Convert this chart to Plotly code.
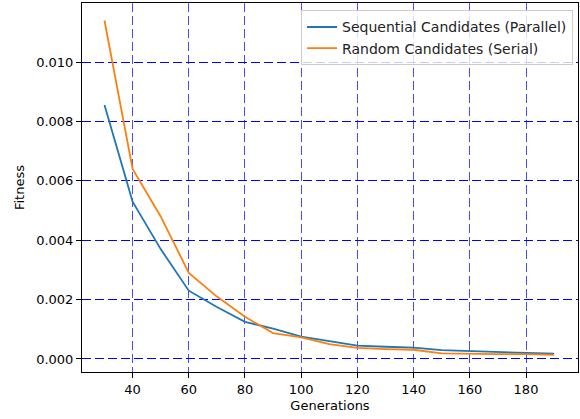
import plotly.graph_objects as go

generations = [30, 40, 50, 60, 70, 80, 90, 100, 110, 120, 130, 140, 150, 160, 170, 180, 190]
sequential_parallel = [0.00855, 0.0053, 0.0037, 0.0023, 0.00175, 0.00125, 0.00102, 0.00075, 0.0006,
                       0.00045, 0.00041, 0.00038, 0.0003, 0.00026, 0.00023, 0.0002, 0.00018]
random_serial = [0.0114, 0.0064, 0.0048, 0.0029, 0.0021, 0.00142, 0.00087, 0.00073, 0.0005,
                 0.00037, 0.00033, 0.00031, 0.00019, 0.00017, 0.00016, 0.00016, 0.00014]
x_ticks = [40, 60, 80, 100, 120, 140, 160, 180]
y_ticks = [0.0, 0.002, 0.004, 0.006, 0.008, 0.010]

fig = go.Figure()
fig.add_trace(go.Scatter(x=generations, y=sequential_parallel, mode="lines",
                         name="Sequential Candidates (Parallel)",
                         line=dict(color="#1f77b4", width=1.8)))
fig.add_trace(go.Scatter(x=generations, y=random_serial, mode="lines",
                         name="Random Candidates (Serial)",
                         line=dict(color="#ff7f0e", width=1.8)))

axis_common = dict(showline=True, linecolor="black", linewidth=1, mirror=True,
                   ticks="outside", ticklen=5, tickcolor="black", tickwidth=1,
                   zeroline=False, showgrid=True, griddash="9px,4px", gridwidth=1,
                   tickfont=dict(family="DejaVu Sans", size=13, color="black"),
                   title_font=dict(family="DejaVu Sans", size=13, color="black"))

fig.update_xaxes(range=[22, 198.5], tickvals=x_ticks, ticktext=[str(v) for v in x_ticks],
                 gridcolor="#4a4aff", title_text="Generations",
                 title_standoff=5, **axis_common)
fig.update_yaxes(range=[-0.00044, 0.01199], tickvals=y_ticks,
                 ticktext=[f"{v:.3f}" for v in y_ticks],
                 gridcolor="#0000ff", title_text="Fitness", title_standoff=8, **axis_common)

fig.update_layout(
    width=580, height=419,
    margin=dict(l=82, r=2, t=3, b=47),
    plot_bgcolor="white", paper_bgcolor="white",
    font=dict(family="DejaVu Sans", size=13, color="black"),
    legend=dict(x=0.99, y=0.98, xanchor="right", yanchor="top",
                bgcolor="rgba(255,255,255,0.8)", bordercolor="#cccccc", borderwidth=1,
                font=dict(family="DejaVu Sans", size=14, color="#222"),
                tracegroupgap=0, itemwidth=30),
    showlegend=True,
)

fig.write_html("out.html")
